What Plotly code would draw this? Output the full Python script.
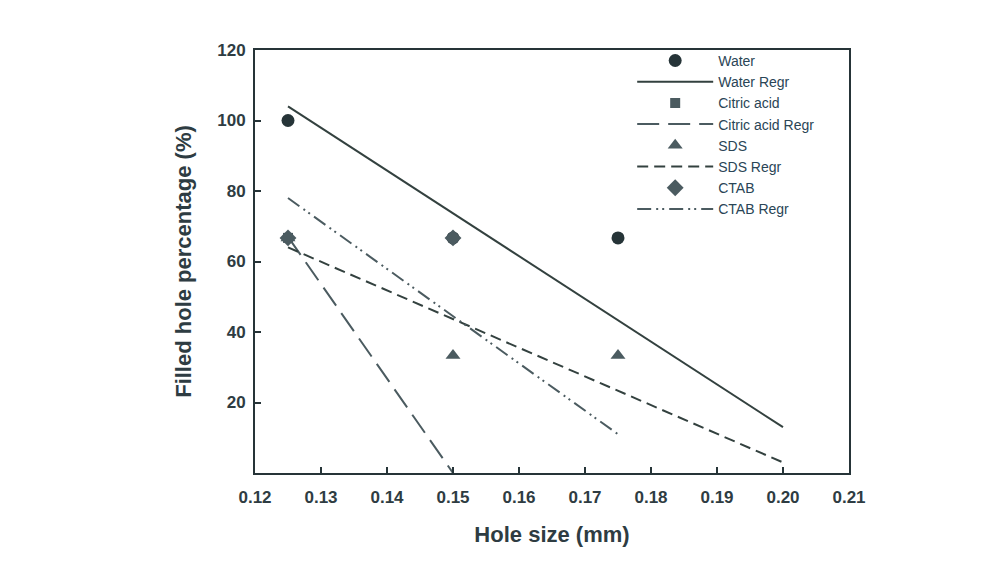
import plotly.graph_objects as go

# Data
water_x = [0.125, 0.15, 0.175]
water_y = [100, 66.7, 66.7]
water_regr_x = [0.125, 0.20]
water_regr_y = [104, 13]

citric_x = [0.125]
citric_y = [66.7]
citric_regr_x = [0.125, 0.15]
citric_regr_y = [67, 0]

sds_x = [0.125, 0.15, 0.175]
sds_y = [66.7, 33.3, 33.3]
sds_regr_x = [0.125, 0.20]
sds_regr_y = [64, 3]

ctab_x = [0.125, 0.15]
ctab_y = [66.7, 66.7]
ctab_regr_x = [0.125, 0.175]
ctab_regr_y = [78, 11]

x_ticks = [0.12, 0.13, 0.14, 0.15, 0.16, 0.17, 0.18, 0.19, 0.20, 0.21]
x_ticktext = ["0.12", "0.13", "0.14", "0.15", "0.16", "0.17", "0.18", "0.19", "0.20", "0.21"]
y_ticks = [20, 40, 60, 80, 100, 120]

dark = "#263438"
grey = "#4b5b60"
line_col = "#33413f"
txt = "#2e3c42"

fig = go.Figure()
fig.add_trace(go.Scatter(x=water_x, y=water_y, mode="markers", name="Water",
                         marker=dict(symbol="circle", size=13, color=dark)))
fig.add_trace(go.Scatter(x=water_regr_x, y=water_regr_y, mode="lines", name="Water Regr",
                         line=dict(color=line_col, width=2)))
fig.add_trace(go.Scatter(x=citric_x, y=citric_y, mode="markers", name="Citric acid",
                         marker=dict(symbol="square", size=10, color=grey)))
fig.add_trace(go.Scatter(x=citric_regr_x, y=citric_regr_y, mode="lines", name="Citric acid Regr",
                         line=dict(color=grey, width=2, dash="22px,9px")))
fig.add_trace(go.Scatter(x=sds_x, y=sds_y, mode="markers", name="SDS",
                         marker=dict(symbol="triangle-up", size=13, color=grey)))
fig.add_trace(go.Scatter(x=sds_regr_x, y=sds_regr_y, mode="lines", name="SDS Regr",
                         line=dict(color=line_col, width=2, dash="11px,6px")))
fig.add_trace(go.Scatter(x=ctab_x, y=ctab_y, mode="markers", name="CTAB",
                         marker=dict(symbol="diamond", size=13, color=grey)))
fig.add_trace(go.Scatter(x=ctab_regr_x, y=ctab_regr_y, mode="lines", name="CTAB Regr",
                         line=dict(color=grey, width=2, dash="14px,5px,2px,4px,2px,5px")))

fig.update_layout(
    width=1004, height=564,
    margin=dict(l=247, r=163, t=42, b=99),
    paper_bgcolor="white", plot_bgcolor="white",
    font=dict(family="Liberation Sans, Arial, sans-serif", color=txt),
    showlegend=True,
    legend=dict(x=0.635, y=1.012, xanchor="left", yanchor="top",
                bgcolor="rgba(0,0,0,0)", font=dict(size=14, color="#2a4556"),
                tracegroupgap=0, itemwidth=76),
)
fig.update_xaxes(range=[0.12, 0.21], tickvals=x_ticks, ticktext=x_ticktext,
                 ticks="inside", ticklen=6, tickcolor=dark, tickwidth=1.5,
                 showline=True, linecolor=dark, linewidth=2, mirror=True,
                 showgrid=False, zeroline=False, ticklabelstandoff=8,
                 tickfont=dict(size=17, family="Liberation Sans, Arial", color=txt, weight="bold"),
                 title=dict(text="Hole size (mm)",
                            font=dict(size=22, color=txt, weight="bold"), standoff=20))
fig.update_yaxes(range=[0, 120], tickvals=y_ticks,
                 ticks="inside", ticklen=6, tickcolor=dark, tickwidth=1.5,
                 showline=True, linecolor=dark, linewidth=2, mirror=True,
                 showgrid=False, zeroline=False, ticklabelstandoff=4,
                 tickfont=dict(size=17, family="Liberation Sans, Arial", color=txt, weight="bold"),
                 title=dict(text="Filled hole percentage (%)",
                            font=dict(size=22, color=txt, weight="bold"), standoff=20))

fig.write_html("out.html")
